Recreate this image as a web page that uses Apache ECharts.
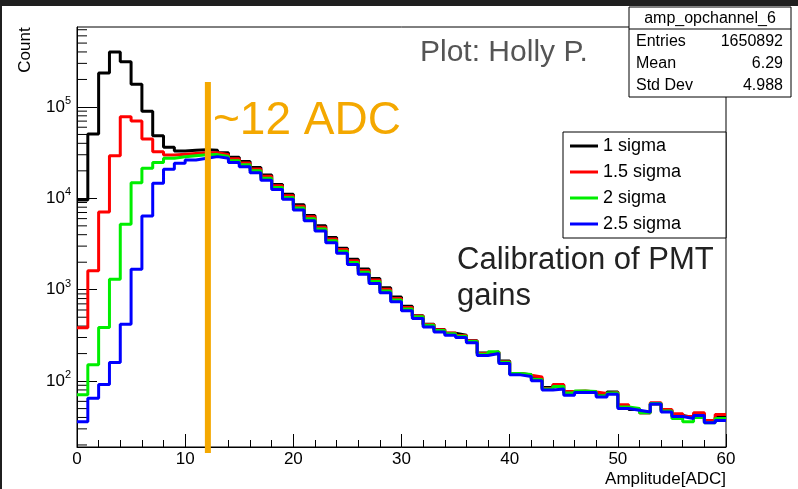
<!DOCTYPE html>
<html>
<head>
<meta charset="utf-8">
<title>amp_opchannel_6</title>
<script src="https://cdn.jsdelivr.net/npm/echarts@6/dist/echarts.min.js"></script>
<style>
  html, body { margin: 0; padding: 0; background: #fff; }
  #chart { width: 798px; height: 489px; }
</style>
</head>
<body>
<div id="chart"></div>
<script>
// bin contents, one value per 1-ADC bin from 0 to 60
const sigma1 = [9600, 50600, 236000, 400000, 313000, 177000, 90000, 48500, 36200, 33000,
  33500, 34000, 33500, 31500, 28200, 25300, 21800, 18000, 14200, 11100,
  8500, 6500, 5000, 3730, 2850, 2150, 1690, 1330, 1050, 830,
  660, 520, 420, 368, 334, 318, 277, 203, 207, 166,
  120, 117, 106, 85, 90, 75, 77, 76, 72, 76,
  52, 49, 45, 56, 48, 42, 40, 44, 36, 40]
const sigma15 = [383, 1610, 7100, 29300, 78000, 70000, 44600, 32400, 29800, 30400,
  31000, 31500, 31500, 30100, 27100, 24400, 21000, 17400, 13700, 10700,
  8200, 6270, 4830, 3600, 2750, 2080, 1620, 1280, 1010, 800,
  640, 515, 415, 365, 336, 316, 275, 200, 208, 163,
  121, 116, 111, 83, 92, 77, 78, 76, 73, 75,
  55, 50, 45, 58, 49, 44, 41, 45, 37, 43]
const sigma2 = [71, 151, 386, 1300, 5200, 14800, 21300, 24600, 27400, 28500,
  29300, 30000, 30100, 28800, 25800, 23300, 20100, 16600, 13100, 10200,
  7820, 5990, 4610, 3430, 2630, 1980, 1550, 1230, 970, 770,
  615, 505, 408, 358, 330, 310, 272, 197, 210, 161,
  121, 118, 104, 82, 87, 74, 78, 77, 69, 74,
  52, 50, 45, 57, 47, 39, 36, 40, 35, 39]
const sigma25 = [36, 65, 92, 160, 420, 1670, 6400, 14600, 20800, 24200,
  26300, 27400, 28600, 27400, 24600, 22200, 19100, 15800, 12500, 9750,
  7450, 5700, 4390, 3270, 2500, 1890, 1480, 1170, 925, 737,
  587, 484, 392, 345, 318, 300, 262, 191, 200, 156,
  117, 112, 101, 80, 82, 70, 75, 75, 67, 72,
  50, 48, 46, 56, 46, 41, 39, 42, 35, 37]

const seriesNames = ['1 sigma', '1.5 sigma', '2 sigma', '2.5 sigma']
const seriesColors = ['#000000', '#ff0000', '#00ee00', '#0000ff']

// log axis minor ticks (2..9 x 10^n)
const yMinorTicks = [20, 30, 40, 50, 60, 70, 80, 90,
  200, 300, 400, 500, 600, 700, 800, 900,
  2000, 3000, 4000, 5000, 6000, 7000, 8000, 9000,
  20000, 30000, 40000, 50000, 60000, 70000, 80000, 90000,
  200000, 300000, 400000, 500000, 600000, 700000]

const markerAdc = 12.1
const markerRange = [188000, 16.3]

const statsTitle = 'amp_opchannel_6'
const statsRows = [['Entries', '1650892'], ['Mean', '6.29'], ['Std Dev', '4.988']]

const FONT = '"Liberation Sans", Arial, sans-serif'
const ORANGE = '#f4a800'

// histogram -> step points (left bin edges + closing edge)
function toSteps(vals) {
  const pts = vals.map((v, i) => [i, v])
  pts.push([vals.length, vals[vals.length - 1]])
  return pts
}

const hists = [sigma1, sigma15, sigma2, sigma25].map((vals, k) => ({
  name: seriesNames[k],
  type: 'line',
  step: 'end',
  showSymbol: false,
  data: toSteps(vals),
  lineStyle: { color: seriesColors[k], width: 3 },
  itemStyle: { color: seriesColors[k] },
  z: 2 + k
}))

let chart = echarts.init(document.getElementById('chart'), null, { renderer: 'canvas' })

// stats box
let statsChildren = [
  { type: 'rect', shape: { x: 629, y: 7, width: 162, height: 90 },
    style: { fill: '#fff', stroke: '#000', lineWidth: 1 } },
  { type: 'line', shape: { x1: 629, y1: 29, x2: 791, y2: 29 }, style: { stroke: '#000', lineWidth: 1 } },
  { type: 'text', x: 710, y: 19,
    style: { text: statsTitle, font: '16px ' + FONT, fill: '#000', align: 'center', verticalAlign: 'middle' } }
]
statsRows.forEach((row, i) => {
  statsChildren.push({ type: 'text', x: 636, y: 42 + i * 22,
    style: { text: row[0], font: '16px ' + FONT, fill: '#000', align: 'left', verticalAlign: 'middle' } })
  statsChildren.push({ type: 'text', x: 783, y: 42 + i * 22,
    style: { text: row[1], font: '16px ' + FONT, fill: '#000', align: 'right', verticalAlign: 'middle' } })
})

const option = {
  animation: false,
  backgroundColor: '#fff',
  textStyle: { fontFamily: FONT },
  grid: { left: 77, top: 27, right: 72, bottom: 42, show: true, borderColor: '#000', borderWidth: 1 },
  legend: {
    data: seriesNames,
    orient: 'vertical',
    left: 563,
    top: 132,
    icon: 'rect',
    itemWidth: 28,
    itemHeight: 3,
    itemGap: 8,
    padding: [5, 45, 5, 7],
    borderColor: '#000',
    borderWidth: 1,
    backgroundColor: '#fff',
    textStyle: { fontSize: 18, color: '#000', fontFamily: FONT },
    selectedMode: false,
    z: 20
  },
  xAxis: {
    type: 'value',
    min: 0,
    max: 60,
    interval: 10,
    name: 'Amplitude[ADC]',
    nameLocation: 'end',
    nameGap: 0,
    nameTextStyle: { fontSize: 17, color: '#000', align: 'right', verticalAlign: 'top', padding: [24, 0, 0, 0] },
    axisLine: { lineStyle: { color: '#000', width: 1 } },
    axisTick: { inside: true, length: 13, lineStyle: { color: '#000' } },
    minorTick: { show: true, splitNumber: 5, length: 7, lineStyle: { color: '#000' } },
    axisLabel: { fontSize: 17, color: '#000', margin: 4 },
    splitLine: { show: false }
  },
  yAxis: {
    type: 'log',
    logBase: 10,
    min: 19,
    max: 750000,
    axisLine: { lineStyle: { color: '#000', width: 1 } },
    axisTick: { inside: true, length: 20, lineStyle: { color: '#000' } },
    axisLabel: {
      margin: 6,
      showMinLabel: false,
      showMaxLabel: false,
      formatter: v => '{b|10}{s|' + Math.round(Math.log10(v)) + '}',
      rich: {
        b: { fontSize: 17, color: '#000', lineHeight: 23, fontFamily: FONT },
        s: { fontSize: 11, color: '#000', verticalAlign: 'top', fontFamily: FONT }
      }
    },
    splitLine: { show: false }
  },
  series: [
    ...hists,
    {
      type: 'custom',
      name: 'minorY',
      silent: true,
      z: 1,
      data: yMinorTicks.map(v => [0, v]),
      renderItem: (params, api) => {
        const p = api.coord([0, api.value(1)])
        return { type: 'line', shape: { x1: p[0], y1: p[1], x2: p[0] + 10, y2: p[1] },
          style: { stroke: '#000', lineWidth: 1 } }
      }
    },
    {
      type: 'custom',
      name: 'marker',
      silent: true,
      clip: false,
      z: 10,
      data: [[markerAdc, markerRange[0], markerRange[1]]],
      renderItem: (params, api) => {
        const a = api.coord([api.value(0), api.value(1)])
        const b = api.coord([api.value(0), api.value(2)])
        return { type: 'line', shape: { x1: a[0], y1: a[1], x2: b[0], y2: b[1] },
          style: { stroke: ORANGE, lineWidth: 6 } }
      }
    }
  ],
  graphic: [
    { type: 'text', x: 213, y: 121, z: 30,
      style: { text: '~12 ADC', font: '46px ' + FONT, fill: ORANGE, verticalAlign: 'middle' } },
    { type: 'text', x: 420, y: 53, z: 30,
      style: { text: 'Plot: Holly P.', font: '30px ' + FONT, fill: '#555', verticalAlign: 'middle' } },
    { type: 'text', x: 457, y: 242, z: 30,
      style: { text: 'Calibration of PMT\ngains', font: '31px ' + FONT, fill: '#222', lineHeight: 36, verticalAlign: 'top' } },
    { type: 'text', x: 25, y: 50, rotation: Math.PI / 2, z: 30,
      style: { text: 'Count', font: '17px ' + FONT, fill: '#000', align: 'center', verticalAlign: 'middle' } },
    { type: 'group', z: 40, children: statsChildren },
    { type: 'rect', z: 50, shape: { x: 0, y: 0, width: 798, height: 6 }, style: { fill: '#1f1f1f' } },
    { type: 'rect', z: 50, shape: { x: 0, y: 0, width: 2, height: 489 }, style: { fill: '#1f1f1f' } }
  ]
}

chart.setOption(option)
</script>
</body>
</html>
